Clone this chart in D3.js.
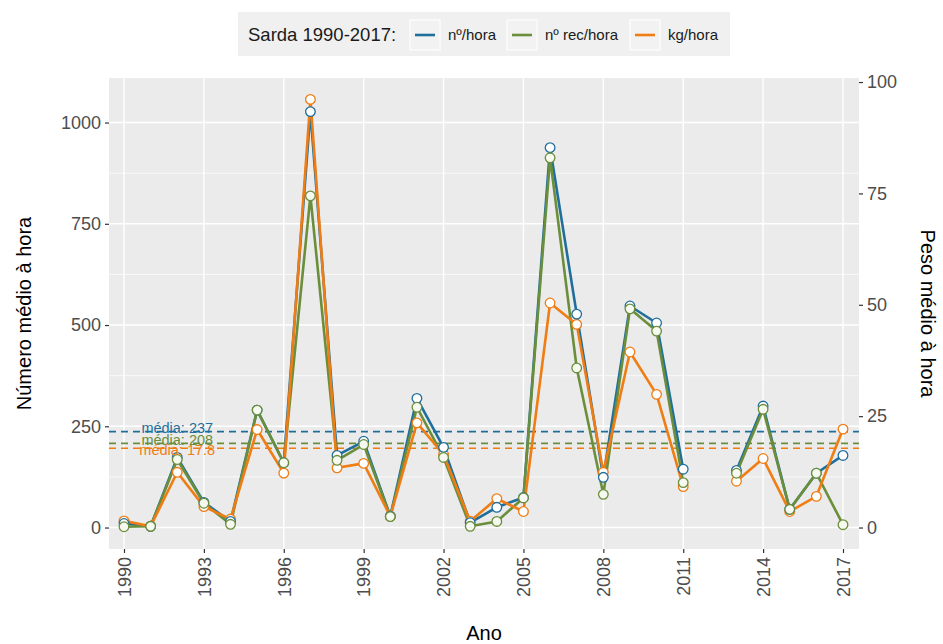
<!DOCTYPE html>
<html>
<head>
<meta charset="utf-8">
<script src="https://cdn.jsdelivr.net/npm/d3@7"></script>
<style>
  body { margin: 0; background: #ffffff; }
  svg { display: block; font-family: "Liberation Sans", Arial, sans-serif; }
</style>
</head>
<body>
<svg id="chart" width="943" height="644"></svg>
<script>
// Mackerel (Sarda) survey indices, 1990-2017 (no survey in 2012)
const years = [1990,1991,1992,1993,1994,1995,1996,1997,1998,1999,2000,2001,2002,2003,2004,2005,2006,2007,2008,2009,2010,2011,2012,2013,2014,2015,2016,2017];
const nHora    = [10, 3, 173, 62, 15, 290, 160, 1027, 178, 213, 28, 319, 198, 12, 50, 74, 938, 527, 124, 547, 505, 144, null, 141, 300, 45, 134, 178];
const nRecHora = [2, 3, 168, 60, 8, 290, 160, 819, 166, 205, 27, 297, 173, 3, 15, 73, 913, 394, 82, 540, 485, 111, null, 134, 292, 45, 134, 7];
const kgHora   = [1.5, 0.3, 12.4, 4.7, 1.9, 22.0, 12.2, 96.1, 13.4, 14.4, 2.5, 23.5, 16.4, 1.4, 6.5, 3.6, 50.4, 45.6, 12.4, 39.4, 29.9, 9.2, null, 10.4, 15.5, 3.6, 7.0, 22.1];

// Means shown as dashed reference lines
const meanValues = [237, 208, 17.8];
const meanLabels = ["média:  237", "média:  208", "média:  17.8"];

const seriesNames = ["nº/hora", "nº rec/hora", "kg/hora"];
const seriesColors = ["#1f6e9c", "#6b8e3b", "#f07d14"];

const leftTicks = [0, 250, 500, 750, 1000];
const leftMinor = [125, 375, 625, 875];
const rightTicks = [0, 25, 50, 75, 100];
const xTicks = [1990, 1993, 1996, 1999, 2002, 2005, 2008, 2011, 2014, 2017];
const legendTitle = "Sarda 1990-2017:";
const kgFactor = 11; // kg/hora is plotted on the left scale multiplied by this factor

const svg = d3.select("#chart");
const panel = {left: 109, right: 859, top: 78, bottom: 549};

const x = d3.scaleLinear().domain([1990, 2017]).range([124, 843]);
const y = d3.scaleLinear().domain([-53, 1110]).range([panel.bottom, panel.top]);
const yRight = d3.scaleLinear().domain([-53 / kgFactor, 1110 / kgFactor]).range([panel.bottom, panel.top]);

// Panel background
svg.append("rect")
  .attr("x", panel.left).attr("y", panel.top)
  .attr("width", panel.right - panel.left).attr("height", panel.bottom - panel.top)
  .attr("fill", "#ebebeb");

// Grid lines
const grid = svg.append("g");
grid.selectAll(".minor").data(leftMinor).join("line")
  .attr("x1", panel.left).attr("x2", panel.right)
  .attr("y1", d => y(d)).attr("y2", d => y(d))
  .attr("stroke", "#ffffff").attr("stroke-width", 0.7);
grid.selectAll(".majorY").data(leftTicks).join("line")
  .attr("x1", panel.left).attr("x2", panel.right)
  .attr("y1", d => y(d)).attr("y2", d => y(d))
  .attr("stroke", "#ffffff").attr("stroke-width", 1.4);
grid.selectAll(".majorX").data(xTicks).join("line")
  .attr("x1", d => x(d)).attr("x2", d => x(d))
  .attr("y1", panel.top).attr("y2", panel.bottom)
  .attr("stroke", "#ffffff").attr("stroke-width", 1.4);

// Mean reference lines
const meanScaled = [meanValues[0], meanValues[1], meanValues[2] * kgFactor];
svg.append("g").selectAll("line").data(meanScaled).join("line")
  .attr("x1", panel.left).attr("x2", panel.right)
  .attr("y1", d => y(d)).attr("y2", d => y(d))
  .attr("stroke", (d, i) => seriesColors[i])
  .attr("stroke-width", 1.7)
  .attr("stroke-dasharray", "7,5");

// Series
const series = [
  {values: nHora, color: seriesColors[0], scale: 1},
  {values: nRecHora, color: seriesColors[1], scale: 1},
  {values: kgHora, color: seriesColors[2], scale: kgFactor}
];
const line = d3.line()
  .defined(d => d.v !== null)
  .x(d => x(d.year))
  .y(d => y(d.v));

series.forEach(s => {
  const pts = years.map((yr, i) => ({year: yr, v: s.values[i] === null ? null : s.values[i] * s.scale}));
  s.pts = pts;
  svg.append("path")
    .datum(pts)
    .attr("d", line)
    .attr("fill", "none")
    .attr("stroke", s.color)
    .attr("stroke-width", 2.6)
    .attr("stroke-linejoin", "round");
});

// Points: kg first, then nº, then nº rec on top
[series[2], series[0], series[1]].forEach(s => {
  svg.append("g").selectAll("circle").data(s.pts.filter(d => d.v !== null)).join("circle")
    .attr("cx", d => x(d.year))
    .attr("cy", d => y(d.v))
    .attr("r", 4.8)
    .attr("fill", s === series[1] ? "#f6f9f0" : "#ffffff")
    .attr("stroke", s.color)
    .attr("stroke-width", 1.3);
});

// Mean labels
const labelOffsets = [1, 2, 7];
svg.append("g").selectAll("text").data(meanLabels).join("text")
  .attr("x", x(1992))
  .attr("y", (d, i) => y(meanScaled[i]) + labelOffsets[i])
  .attr("text-anchor", "middle")
  .attr("font-size", 14.5)
  .attr("fill", (d, i) => seriesColors[i])
  .text(d => d);

// Left axis
const leftAxis = svg.append("g").attr("transform", `translate(${panel.left},0)`)
  .call(d3.axisLeft(y).tickValues(leftTicks).tickFormat(d3.format("d")).tickSize(4).tickPadding(4));
// Right axis
const rightAxis = svg.append("g").attr("transform", `translate(${panel.right},0)`)
  .call(d3.axisRight(yRight).tickValues(rightTicks).tickFormat(d3.format("d")).tickSize(4).tickPadding(4));
// Bottom axis
const bottomAxis = svg.append("g").attr("transform", `translate(0,${panel.bottom})`)
  .call(d3.axisBottom(x).tickValues(xTicks).tickFormat(d3.format("d")).tickSize(4).tickPadding(4));
bottomAxis.selectAll("text")
  .attr("transform", "rotate(-90)")
  .attr("text-anchor", "end")
  .attr("x", -8)
  .attr("y", 0)
  .attr("dy", "0.35em");

[leftAxis, rightAxis, bottomAxis].forEach(a => {
  a.select(".domain").remove();
  a.selectAll(".tick line").attr("stroke", "#333333").attr("stroke-width", 1.2);
  a.selectAll(".tick text").attr("fill", "#4d4d4d").attr("font-size", 18)
    .attr("font-family", "'Liberation Sans', Arial, sans-serif");
});

// Axis titles
svg.append("text")
  .attr("transform", `translate(31,${(panel.top + panel.bottom) / 2}) rotate(-90)`)
  .attr("text-anchor", "middle").attr("font-size", 20).attr("fill", "#000")
  .text("Número médio à hora");
svg.append("text")
  .attr("transform", `translate(921,${(panel.top + panel.bottom) / 2}) rotate(90)`)
  .attr("text-anchor", "middle").attr("font-size", 20).attr("fill", "#000")
  .text("Peso médio à hora");
svg.append("text")
  .attr("x", (panel.left + panel.right) / 2).attr("y", 640)
  .attr("text-anchor", "middle").attr("font-size", 20).attr("fill", "#000")
  .text("Ano");

// Legend
const legend = svg.append("g");
legend.append("rect")
  .attr("x", 238).attr("y", 12).attr("width", 492).attr("height", 44)
  .attr("fill", "#f0f0f0");
legend.append("text")
  .attr("x", 248).attr("y", 41)
  .attr("font-size", 18.5).attr("fill", "#1a1a1a")
  .text(legendTitle);
const keyX = [410, 507, 630];
seriesNames.forEach((name, i) => {
  legend.append("rect")
    .attr("x", keyX[i]).attr("y", 20).attr("width", 30).attr("height", 30)
    .attr("fill", "#f2f2f2").attr("stroke", "#ffffff").attr("stroke-width", 1);
  legend.append("line")
    .attr("x1", keyX[i] + 5).attr("x2", keyX[i] + 25)
    .attr("y1", 35).attr("y2", 35)
    .attr("stroke", seriesColors[i]).attr("stroke-width", 2.6);
  legend.append("text")
    .attr("x", keyX[i] + 38).attr("y", 40)
    .attr("font-size", 15).attr("fill", "#1a1a1a")
    .text(name);
});
</script>
</body>
</html>
